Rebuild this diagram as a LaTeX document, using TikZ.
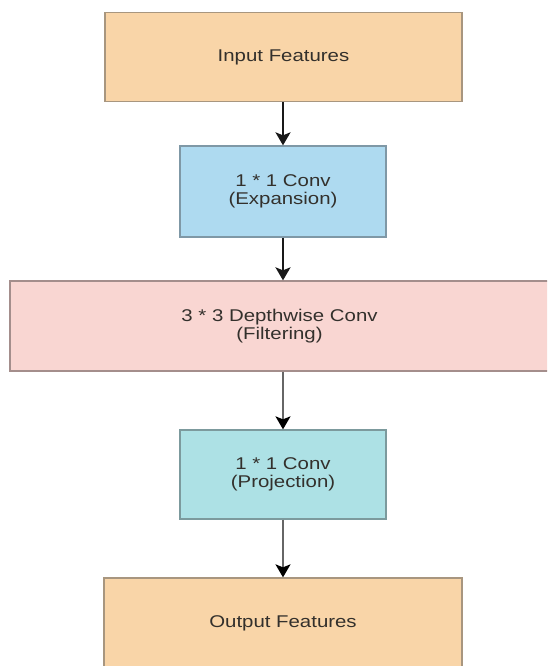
\documentclass[tikz,border=0pt]{standalone}
\usepackage{fontspec}
\setmainfont{Liberation Sans}[FakeStretch=1.2]
\usetikzlibrary{arrows.meta}

\definecolor{peachfill}{HTML}{F9D5A8}
\definecolor{peachline}{HTML}{A8967F}
\definecolor{bluefill}{HTML}{AEDAF0}
\definecolor{blueline}{HTML}{7F98A6}
\definecolor{pinkfill}{HTML}{F9D6D2}
\definecolor{pinkline}{HTML}{A48E8C}
\definecolor{cyanfill}{HTML}{ADE1E5}
\definecolor{cyanline}{HTML}{7C9A9D}
\definecolor{labeltext}{HTML}{33302C}

\tikzset{
  block/.style={draw, line width=1.3pt, rectangle, align=center,
    inner sep=0pt, text=labeltext,
    font=\fontsize{17}{18}\selectfont},
  io/.style={block, fill=peachfill, draw=peachline},
  expand/.style={block, fill=bluefill, draw=blueline},
  depth/.style={block, fill=pinkfill, draw=pinkline},
  project/.style={block, fill=cyanfill, draw=cyanline},
  flow/.style={line width=2.2pt, draw=black!90,
    -{Stealth[length=13pt,width=15pt,inset=3pt]}},
  flowlight/.style={line width=1.8pt, draw=black!60,
    -{Stealth[length=13pt,width=15pt,inset=3pt,color=black,fill=black]}}
}

\begin{document}
\begin{tikzpicture}[x=1pt, y=-1pt]
  \useasboundingbox (0,0) rectangle (547,666);
  \fill[white] (0,0) rectangle (547,666);
  \clip (0,0) rectangle (547,666);

  \node[io, minimum width=357pt, minimum height=89pt] (in) at (283.5,57) {Input Features};
  \node[expand, minimum width=206pt, minimum height=91pt] (exp) at (283,191.5) {1 * 1 Conv\\(Expansion)};
  \node[depth, minimum width=539pt, minimum height=90pt] (dw) at (279.5,326) {3 * 3 Depthwise Conv\\(Filtering)};
  \node[project, minimum width=206pt, minimum height=89pt] (proj) at (283,474.5) {1 * 1 Conv\\(Projection)};
  \node[io, minimum width=358pt, minimum height=90pt] (out) at (283,623) {Output Features};

  \draw[flow] (in.south -| exp.north) -- (exp.north);
  \draw[flow] (exp.south) -- (dw.north -| exp.south);
  \draw[flowlight] (dw.south -| proj.north) -- (proj.north);
  \draw[flowlight] (proj.south) -- (out.north -| proj.south);
\end{tikzpicture}
\end{document}
